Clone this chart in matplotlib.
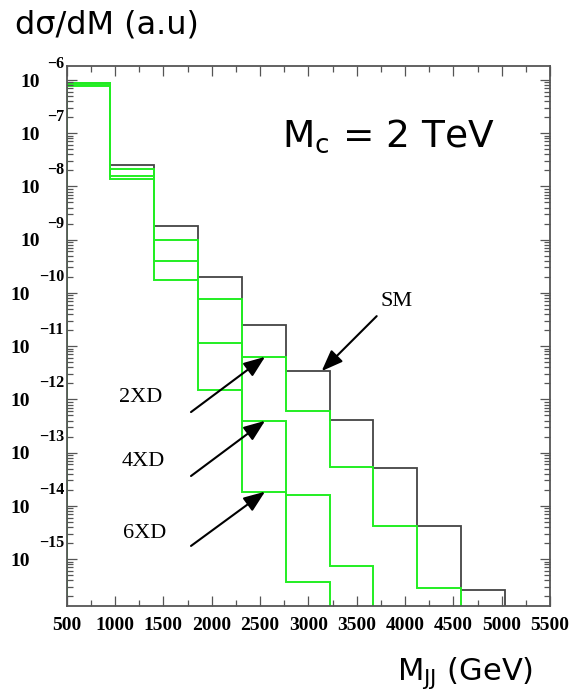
import numpy as np
import matplotlib.pyplot as plt
from matplotlib.ticker import MultipleLocator, LogLocator, NullFormatter
from matplotlib.transforms import blended_transform_factory

# bin edges in M_JJ (GeV)
edges = [500, 953, 1407, 1860, 2314, 2767, 3220, 3674, 4127, 4580, 5034]

# d sigma / dM, arbitrary units (0 = below the plotted range)
sm = [8.6e-7, 2.49e-8, 1.78e-9, 1.97e-10, 2.48e-11, 3.40e-12, 4.09e-13, 5.14e-14, 4.20e-15, 2.64e-16]
xd2 = [8.6e-7, 2.16e-8, 1.00e-9, 7.52e-11, 6.30e-12, 6.11e-13, 5.30e-14, 4.26e-15, 2.84e-16, 0]
xd4 = [8.05e-7, 1.55e-8, 3.98e-10, 1.17e-11, 3.96e-13, 1.60e-14, 7.45e-16, 0, 0, 0]
xd6 = [7.71e-7, 1.38e-8, 1.73e-10, 1.49e-12, 1.85e-14, 3.69e-16, 0, 0, 0, 0]

decades = list(range(-6, -16, -1))
xticks = list(range(500, 6000, 500))

W, H = 571, 690
fig = plt.figure(figsize=(W / 100, H / 100), dpi=100)
ax = fig.add_axes([66.7 / W, 1 - 606 / H, (550 - 66.7) / W, (606 - 65.5) / H])

green = '#22ee22'
ax.stairs(sm, edges, color='#444444', lw=1.3, baseline=0)
for vals in (xd2, xd4, xd6):
    ax.stairs(vals, edges, color=green, lw=1.4, baseline=0)

ax.set_yscale('log')
ax.set_xlim(500, 5500)
ax.set_ylim(10 ** -15.88, 10 ** -5.73)

ax.xaxis.set_major_locator(MultipleLocator(500))
ax.xaxis.set_minor_locator(MultipleLocator(250))
ax.yaxis.set_major_locator(LogLocator(base=10, numticks=30))
ax.yaxis.set_minor_locator(LogLocator(base=10, subs=np.arange(2, 10), numticks=30))
ax.yaxis.set_major_formatter(NullFormatter())
ax.yaxis.set_minor_formatter(NullFormatter())

ax.tick_params(which='both', direction='in', top=True, right=True, color='#555555', width=0.9)
ax.tick_params(which='major', length=7.5)
ax.tick_params(which='minor', length=4.3)
ax.tick_params(axis='x', which='major', pad=8)
for spine in ax.spines.values():
    spine.set_color('#555555')
    spine.set_linewidth(1.3)

ax.set_xticks(xticks)
ax.set_xticklabels([str(v) for v in xticks], fontfamily='Liberation Serif',
                   fontweight='bold', fontsize=14)

# y tick labels drawn as "10" plus a raised exponent
tr = blended_transform_factory(fig.transFigure, ax.transData)
for k in decades:
    exp = '\u2212' + str(-k)
    ax.text(64 / W, 10 ** (k + 0.3), exp, transform=tr, ha='right', va='center',
            fontfamily='Liberation Serif', fontweight='bold', fontsize=11.5, clip_on=False)
    x10 = 40 / W if k > -10 else 30 / W
    ax.text(x10, 10 ** (k - 0.04), '10', transform=tr, ha='right', va='center',
            fontfamily='Liberation Serif', fontweight='bold', fontsize=14, clip_on=False)

# axis titles
fig.text(15 / W, 1 - 25.5 / H, 'd\u03c3/dM (a.u)', ha='left', va='center', fontsize=23)
fig.text(533 / W, 1 - 680 / H, r'M$_{\rm JJ}$ (GeV)', ha='right', va='baseline', fontsize=22)
fig.text(495 / W, 1 - 147 / H, r'M$_{\rm c}$ = 2 TeV', ha='right', va='baseline', fontsize=27)

# curve labels and arrows
serif = dict(fontfamily='Liberation Serif', fontsize=16, ha='center', va='center')
fig.text(397 / W, 1 - 301 / H, 'SM', **serif)
fig.text(141 / W, 1 - 398 / H, '2XD', **serif)
fig.text(143 / W, 1 - 462 / H, '4XD', **serif)
fig.text(145 / W, 1 - 533 / H, '6XD', **serif)

arrow = dict(arrowstyle='-|>,head_length=1.3,head_width=0.5', mutation_scale=10,
             lw=1.5, color='black', shrinkA=0, shrinkB=0)
ax.annotate('', xy=(2552, xd2[4]), xytext=(1786, 5.78e-13), arrowprops=arrow)
ax.annotate('', xy=(2552, xd4[4]), xytext=(1786, 3.64e-14), arrowprops=arrow)
ax.annotate('', xy=(2552, xd6[4]), xytext=(1786, 1.77e-15), arrowprops=arrow)
ax.annotate('', xy=(3138, sm[5]), xytext=(3707, 3.66e-11), arrowprops=arrow)

fig.savefig('out.png', dpi=100)
